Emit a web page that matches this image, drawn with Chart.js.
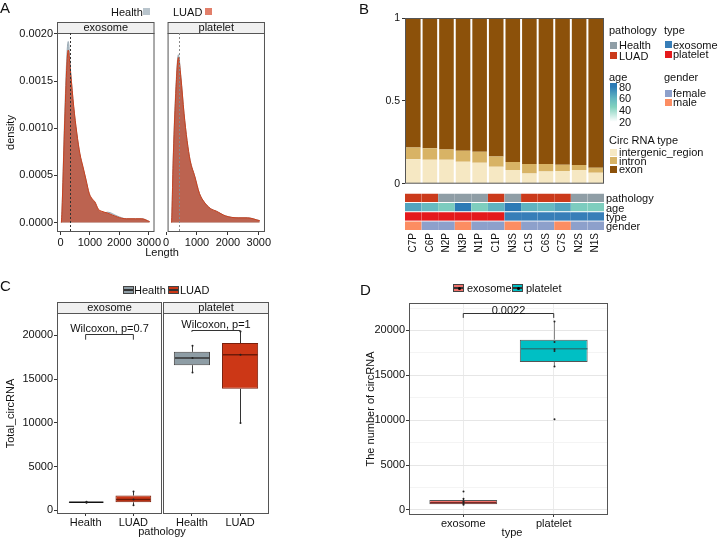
<!DOCTYPE html>
<html>
<head>
<meta charset="utf-8">
<script src="https://cdn.jsdelivr.net/npm/chart.js@4.4.0/dist/chart.umd.min.js"></script>
<style>
  body { margin: 0; background: #fff; }
  #fig { position: relative; width: 718px; height: 538px; overflow: hidden;
         font-family: "Liberation Sans", Arial, sans-serif; color: #111; }
  #fig canvas { position: absolute; }
  .t { position: absolute; white-space: nowrap; font-size: 11px; line-height: 1; }
  .sw { position: absolute; box-sizing: border-box; }
</style>
</head>
<body>
<div id="fig">
  <canvas id="aExo" width="162" height="262" style="left:0;top:0"></canvas>
  <canvas id="aPlt" width="110" height="262" style="left:162px;top:0"></canvas>
  <canvas id="bBars" width="236" height="184" style="left:370px;top:8px"></canvas>
  <canvas id="bHeat" width="210" height="80" style="left:400px;top:190px"></canvas>
  <canvas id="cExo" width="163" height="230" style="left:0;top:300px"></canvas>
  <canvas id="cPlt" width="110" height="230" style="left:162px;top:300px"></canvas>
  <canvas id="dBox" width="268" height="235" style="left:345px;top:295px"></canvas>
</div>
<script>
var FONT = '"Liberation Sans", Arial, sans-serif';

// A: circRNA length density
var lenExo = [32, 52, 136, 220, 265, 347, 451, 556, 662, 767, 871, 978, 1082, 1170, 1293, 1400, 1609, 1924, 2240, 2555, 2765, 3030];
var exoHealth = [0, 0.00013, 0.00105, 0.00178, 0.00192, 0.00160, 0.00122, 0.00094, 0.00072, 0.00058, 0.00045, 0.00030, 0.00024, 0.00021, 0.00012, 0.00010, 0.00011, 0.00007, 0.00004, 0.00004, 0.00004, 0.00001];
var exoLUAD = [0, 0.00012, 0.00098, 0.00168, 0.00183, 0.00158, 0.00123, 0.00095, 0.00073, 0.00059, 0.00045, 0.00031, 0.00025, 0.00022, 0.00014, 0.00012, 0.00010, 0.00006, 0.00004, 0.00004, 0.00004, 0.00001];
var lenPlt = [178, 190, 228, 308, 398, 478, 580, 679, 778, 928, 1078, 1228, 1430, 1630, 1930, 2330, 2630, 3030];
var pltHealth = [0, 0.00012, 0.00066, 0.00137, 0.00178, 0.00155, 0.00116, 0.00087, 0.00066, 0.00049, 0.00031, 0.00022, 0.00015, 0.00012, 0.00007, 0.00005, 0.00005, 0.00002];
var pltLUAD = [0, 0.00011, 0.00063, 0.00133, 0.00175, 0.00154, 0.00116, 0.00087, 0.00066, 0.00049, 0.00031, 0.00022, 0.00015, 0.00012, 0.00007, 0.00005, 0.00005, 0.00002];
var cutExo = 315, cutPlt = 430;
var densTicks = [0, 0.0005, 0.001, 0.0015, 0.002];
var lenTicks = [0, 1000, 2000, 3000];

// B: circRNA type fractions per sample + annotations
var samples = ['C7P', 'C6P', 'N2P', 'N3P', 'N1P', 'C1P', 'N3S', 'C1S', 'C6S', 'C7S', 'N2S', 'N1S'];
var intergenic = [0.148, 0.144, 0.144, 0.133, 0.127, 0.103, 0.082, 0.062, 0.074, 0.076, 0.082, 0.066];
var intron = [0.070, 0.070, 0.063, 0.066, 0.066, 0.061, 0.049, 0.057, 0.045, 0.039, 0.031, 0.031];
var exon = [0.782, 0.786, 0.793, 0.801, 0.807, 0.836, 0.869, 0.881, 0.881, 0.885, 0.887, 0.903];
var pathology = ['LUAD', 'LUAD', 'Health', 'Health', 'Health', 'LUAD', 'Health', 'LUAD', 'LUAD', 'LUAD', 'Health', 'Health'];
var ages = [66, 58, 48, 80, 47, 61, 80, 61, 58, 66, 48, 47];
var types = ['platelet', 'platelet', 'platelet', 'platelet', 'platelet', 'platelet', 'exosome', 'exosome', 'exosome', 'exosome', 'exosome', 'exosome'];
var gender = ['male', 'female', 'female', 'male', 'female', 'female', 'male', 'female', 'female', 'male', 'female', 'female'];
var fracTicks = [0, 0.5, 1];

// C: total circRNA per pathology within each type
var groupsC = ['Health', 'LUAD'];
var boxCExo = [
  {min: 880, q1: 925, med: 945, q3: 965, max: 1000},
  {min: 600, q1: 925, med: 1250, q3: 1700, max: 2150}
];
var ptsCExo = [[1000, 930, 880], [2150, 1250, 600]];
var boxCPlt = [
  {min: 15770, q1: 16595, med: 17420, q3: 18120, max: 18820},
  {min: 9990, q1: 13895, med: 17800, q3: 19130, max: 20460}
];
var ptsCPlt = [[18820, 17420, 15770], [20460, 17800, 9990]];
var countTicks = [0, 5000, 10000, 15000, 20000];

// D: circRNA number per type
var groupsD = ['exosome', 'platelet'];
var boxD = [
  {min: 580, q1: 640, med: 820, q3: 1100, max: 1250},
  {min: 15990, q1: 16480, med: 17970, q3: 18970, max: 21000}
];
var ptsD = [[2050, 1250, 960, 900, 700, 580], [21000, 18700, 17900, 17700, 15990, 10120]];
var minorTicksD = [2500, 7500, 12500, 17500, 22500];

// colours
var cHealth = '#8e9da5', cLUAD = '#cc3716';
var pathColors = {Health: '#8f9ea6', LUAD: '#cb3a1b'};
var typeColors = {exosome: '#377eb8', platelet: '#e41a1c'};
var genderColors = {female: '#8da0cb', male: '#fc8d62'};
var ageStops = [[20, [255, 255, 255]], [45, [130, 210, 190]], [60, [98, 182, 193]], [80, [44, 123, 182]]];

function ageColor(a) {
  for (var i = 1; i < ageStops.length; i++) {
    if (a <= ageStops[i][0] || i === ageStops.length - 1) {
      var s0 = ageStops[i - 1], s1 = ageStops[i];
      var t = Math.max(0, Math.min(1, (a - s0[0]) / (s1[0] - s0[0])));
      var c = s0[1].map(function (v, k) { return Math.round(v + (s1[1][k] - v) * t); });
      return 'rgb(' + c.join(',') + ')';
    }
  }
}

Chart.defaults.font.family = FONT;
Chart.defaults.font.size = 11;
Chart.defaults.color = '#1a1a1a';
Chart.defaults.animation = false;
Chart.defaults.plugins.legend.display = false;
Chart.defaults.plugins.tooltip.enabled = false;

function fixW(w) { return function (s) { s.width = w; }; }
function fixH(h) { return function (s) { s.height = h; }; }
function setTicks(list) {
  return function (s) { s.ticks = list.map(function (v) { return {value: v}; }); };
}
function plain(v) { return String(v); }
function seg(ctx, x1, y1, x2, y2) {
  ctx.beginPath(); ctx.moveTo(x1, y1); ctx.lineTo(x2, y2); ctx.stroke();
}

// panel border + optional facet strip
var framePlugin = {
  id: 'frame',
  afterDatasetsDraw: function (chart, args, o) {
    var a = chart.chartArea, ctx = chart.ctx;
    ctx.save();
    ctx.strokeStyle = '#555';
    ctx.lineWidth = 1;
    ctx.strokeRect(a.left + 0.5, a.top + 0.5, a.right - a.left - 1, a.bottom - a.top - 1);
    if (o.strip) {
      ctx.fillStyle = '#f0f0f0';
      ctx.fillRect(a.left, a.top - 11, a.right - a.left, 11);
      ctx.strokeRect(a.left + 0.5, a.top - 10.5, a.right - a.left - 1, 11);
      ctx.fillStyle = '#111';
      ctx.font = '11px ' + FONT;
      ctx.textAlign = 'center';
      ctx.textBaseline = 'middle';
      ctx.fillText(o.strip, (a.left + a.right) / 2, a.top - 5);
    }
    ctx.restore();
  }
};

// dashed median-length line
var cutPlugin = {
  id: 'cut',
  afterDatasetsDraw: function (chart, args, o) {
    var a = chart.chartArea, ctx = chart.ctx;
    var x = Math.round(chart.scales.x.getPixelForValue(o.value)) + 0.5;
    ctx.save();
    ctx.strokeStyle = o.color;
    ctx.setLineDash([2, 2]);
    seg(ctx, x, a.top, x, a.bottom);
    ctx.restore();
  }
};

// whiskers, medians, points and the test bracket of a boxplot
var boxPlugin = {
  id: 'boxes',
  afterDatasetsDraw: function (chart, args, o) {
    var ctx = chart.ctx, ys = chart.scales.y, xs = chart.scales.x;
    var meta = chart.getDatasetMeta(0);
    ctx.save();
    o.stats.forEach(function (s, i) {
      var el = meta.data[i], x = Math.round(el.x) + 0.5, half = el.width / 2;
      ctx.lineWidth = 1;
      ctx.strokeStyle = o.whisker[i];
      seg(ctx, x, ys.getPixelForValue(s.q3), x, ys.getPixelForValue(s.max));
      seg(ctx, x, ys.getPixelForValue(s.q1), x, ys.getPixelForValue(s.min));
      ctx.strokeStyle = o.median[i];
      ctx.lineWidth = 1.5;
      var m = ys.getPixelForValue(s.med);
      seg(ctx, x - half + 0.5, m, x + half - 1, m);
      ctx.fillStyle = '#222';
      o.points[i].forEach(function (v) {
        ctx.beginPath();
        ctx.arc(x, ys.getPixelForValue(v), 1, 0, Math.PI * 2);
        ctx.fill();
      });
    });
    var t = o.test;
    var x1 = xs.getPixelForValue(t.from), x2 = xs.getPixelForValue(t.to);
    var yb = Math.round(ys.getPixelForValue(t.at)) + 0.5, yd = ys.getPixelForValue(t.tip);
    ctx.strokeStyle = '#333';
    ctx.lineWidth = 1;
    ctx.beginPath();
    ctx.moveTo(x1, yd); ctx.lineTo(x1, yb); ctx.lineTo(x2, yb); ctx.lineTo(x2, yd);
    ctx.stroke();
    ctx.fillStyle = '#111';
    ctx.font = '11px ' + FONT;
    ctx.textAlign = 'center';
    ctx.textBaseline = 'alphabetic';
    ctx.fillText(t.label, (x1 + x2) / 2, yb - t.gap);
    ctx.restore();
  }
};

function pts(xs, ys) { return xs.map(function (x, i) { return {x: x, y: ys[i]}; }); }

function densityChart(id, lens, health, luad, xMin, xMax, cut, cutColor, strip, showY, pad) {
  return new Chart(document.getElementById(id), {
    type: 'line',
    data: {
      datasets: [
        {data: pts(lens, luad), fill: 'origin', backgroundColor: 'rgba(190,78,52,0.82)',
         borderColor: '#c8401e', borderWidth: 1, pointRadius: 0, cubicInterpolationMode: 'monotone'},
        {data: pts(lens, health), fill: 'origin', backgroundColor: 'rgba(165,182,193,0.85)',
         borderColor: '#9aa9b3', borderWidth: 1, pointRadius: 0, cubicInterpolationMode: 'monotone'}
      ]
    },
    options: {
      responsive: false,
      layout: {padding: pad},
      scales: {
        x: {type: 'linear', min: xMin, max: xMax, afterBuildTicks: setTicks(lenTicks), afterFit: fixH(30),
            ticks: {autoSkip: false, maxRotation: 0, padding: 1, font: {size: 11}, color: '#111', callback: plain},
            grid: {drawOnChartArea: false, tickLength: 3, color: '#333'}, border: {display: false}},
        y: {min: -0.0001, max: 0.00201, display: showY, afterBuildTicks: setTicks(densTicks), afterFit: fixW(showY ? 57 : 0),
            ticks: {padding: 1, color: '#111', callback: function (v) { return v.toFixed(4); }},
            title: {display: true, text: 'density', font: {size: 11}, color: '#111'},
            grid: {drawOnChartArea: false, tickLength: 3, color: '#333'}, border: {display: false}}
      },
      plugins: {frame: {strip: strip}, cut: {value: cut, color: cutColor}}
    },
    plugins: [framePlugin, cutPlugin]
  });
}

densityChart('aExo', lenExo, exoHealth, exoLUAD, -117, 3195, cutExo, '#333', 'exosome', true,
             {left: 0, top: 33, right: 0, bottom: 0});
densityChart('aPlt', lenPlt, pltHealth, pltLUAD, 48, 3200, cutPlt, '#8a8a8a', 'platelet', false,
             {left: 2, top: 33, right: 3, bottom: 0});

// B: stacked fractions
new Chart(document.getElementById('bBars'), {
  type: 'bar',
  data: {
    labels: samples,
    datasets: [
      {label: 'intergenic_region', data: intergenic, backgroundColor: '#f6e8c3'},
      {label: 'intron', data: intron, backgroundColor: '#d8b365'},
      {label: 'exon', data: exon, backgroundColor: '#8c510a'}
    ].map(function (d) { d.barPercentage = 0.88; d.categoryPercentage = 1; return d; })
  },
  options: {
    responsive: false,
    layout: {padding: {left: 0, top: 10, right: 2, bottom: 3}},
    scales: {
      x: {stacked: true, display: false},
      y: {stacked: true, min: 0, max: 1, afterBuildTicks: setTicks(fracTicks), afterFit: fixW(35),
          ticks: {padding: 2, font: {size: 10.5}, color: '#111', callback: plain},
          grid: {drawOnChartArea: false, tickLength: 3, color: '#333'}, border: {display: false}}
    },
    plugins: {frame: {}}
  },
  plugins: [framePlugin]
});

// B: annotation heatmap (bottom row first)
var heatRows = [
  {name: 'gender', colors: gender.map(function (g) { return genderColors[g]; })},
  {name: 'type', colors: types.map(function (t) { return typeColors[t]; })},
  {name: 'age', colors: ages.map(ageColor)},
  {name: 'pathology', colors: pathology.map(function (p) { return pathColors[p]; })}
];
new Chart(document.getElementById('bHeat'), {
  type: 'bar',
  data: {
    labels: samples,
    datasets: heatRows.map(function (r) {
      return {label: r.name, data: samples.map(function () { return 1; }), backgroundColor: r.colors,
              borderColor: 'rgba(255,255,255,0.8)', borderWidth: {top: 1, right: 0, bottom: 0, left: 0},
              barPercentage: 1, categoryPercentage: 1};
    })
  },
  options: {
    responsive: false,
    layout: {padding: {left: 5, top: 3, right: 6, bottom: 0}},
    scales: {
      x: {stacked: true, afterFit: fixH(40), grid: {display: false}, border: {display: false},
          ticks: {autoSkip: false, maxRotation: 90, minRotation: 90, padding: -5, font: {size: 10}, color: '#111'}},
      y: {stacked: true, min: 0, max: 4, display: false}
    }
  }
});

function boxChart(id, groups, stats, points, o) {
  return new Chart(document.getElementById(id), {
    type: 'bar',
    data: {
      datasets: [{
        data: stats.map(function (s, i) { return {x: i + 1, y: [s.q1, s.q3]}; }),
        backgroundColor: o.fill, borderColor: o.line, borderWidth: 1, borderSkipped: false,
        barPercentage: 0.75, categoryPercentage: 1
      }]
    },
    options: {
      responsive: false,
      layout: {padding: o.pad},
      scales: {
        x: {type: 'linear', offset: false, min: 0.4, max: 2.6, afterBuildTicks: setTicks([1, 2]), afterFit: fixH(o.xh),
            ticks: {autoSkip: false, maxRotation: 0, padding: 0, font: {size: 11}, color: '#111',
                    callback: function (v) { return groups[v - 1]; }},
            grid: {display: true, offset: false, color: '#ebebeb', tickColor: '#333', tickLength: 2, drawOnChartArea: o.grid},
            border: {display: false}},
        y: o.y
      },
      plugins: {frame: {strip: o.strip},
                boxes: {stats: stats, points: points, whisker: o.whisker, median: o.median, test: o.test}}
    },
    plugins: [framePlugin, boxPlugin]
  });
}

function yCount(min, max, show, w, title) {
  return {min: min, max: max, display: show, afterBuildTicks: setTicks(countTicks), afterFit: fixW(w),
          ticks: {padding: 1, font: {size: 11}, color: '#111', callback: plain},
          title: {display: !!title, text: title, font: {size: 11}, color: '#111'},
          grid: {drawOnChartArea: false, tickLength: 3, color: '#333'}, border: {display: false}};
}

boxChart('cExo', groupsC, boxCExo, ptsCExo, {
  fill: [cHealth, cLUAD], line: ['#333', '#7a1f0b'], whisker: ['#333', '#333'], median: ['#111', '#6e1a08'],
  pad: {left: 0, top: 13, right: 1, bottom: 0}, xh: 16, grid: false, strip: 'exosome',
  y: yCount(-411, 22560, true, 57, 'Total_circRNA'),
  test: {from: 1, to: 2, at: 20160, tip: 19510, label: 'Wilcoxon, p=0.7', gap: 3}
});
boxChart('cPlt', groupsC, boxCPlt, ptsCPlt, {
  fill: [cHealth, cLUAD], line: ['#444', '#7a1f0b'], whisker: ['#444', '#333'], median: ['#333', '#6e1a08'],
  pad: {left: 1, top: 13, right: 3, bottom: 0}, xh: 16, grid: false, strip: 'platelet',
  y: yCount(-411, 22560, false, 0, ''),
  test: {from: 1, to: 2, at: 20650, tip: 20400, label: 'Wilcoxon, p=1', gap: 3}
});

var yD = yCount(-558, 23058, true, 49, 'The number of circRNA');
yD.afterBuildTicks = setTicks(countTicks.concat(minorTicksD).sort(function (a, b) { return a - b; }));
yD.ticks.callback = function (v) { return countTicks.indexOf(v) >= 0 ? String(v) : ''; };
yD.grid = {
  drawOnChartArea: true, tickLength: 3,
  color: function (c) { return countTicks.indexOf(c.tick.value) >= 0 ? '#e6e6e6' : '#f4f4f4'; },
  tickColor: function (c) { return countTicks.indexOf(c.tick.value) >= 0 ? '#333' : 'rgba(0,0,0,0)'; }
};
boxChart('dBox', groupsD, boxD, ptsD, {
  fill: ['#f0716a', '#00bfc4'], line: ['#555', '#555'], whisker: ['#111', '#888'], median: ['#7a2a26', '#1f7c80'],
  pad: {left: 15, top: 8, right: 5, bottom: 0}, xh: 15, grid: true, strip: null,
  y: yD,
  test: {from: 1, to: 2, at: 21950, tip: 21400, label: '0.0022', gap: 0}
});

// text and legends
var fig = document.getElementById('fig');
function txt(s, x, y, o) {
  o = o || {};
  var d = document.createElement('div');
  d.className = 't';
  d.textContent = s;
  d.style.left = x + 'px';
  d.style.top = y + 'px';
  d.style.transform = 'translate(' + (o.center ? '-50%' : '0') + ',-50%)';
  if (o.size) d.style.fontSize = o.size + 'px';
  fig.appendChild(d);
  return d;
}
function swatch(x, y, w, h, bg, border) {
  var d = document.createElement('div');
  d.className = 'sw';
  d.style.left = x + 'px';
  d.style.top = y + 'px';
  d.style.width = w + 'px';
  d.style.height = h + 'px';
  d.style.background = bg;
  if (border) d.style.border = '1px solid ' + border;
  fig.appendChild(d);
  return d;
}
function boxKey(x, y, fill, dot) {
  var k = swatch(x, y, 11, 8, 'linear-gradient(' + fill + ' 40%, #333 40%, #333 60%, ' + fill + ' 60%)', '#444');
  if (dot) {
    var p = document.createElement('div');
    p.className = 'sw';
    p.style.cssText = 'left:3.5px;top:1.5px;width:3px;height:3px;border-radius:50%;background:#000';
    k.appendChild(p);
  }
}

// A
txt('A', 0, 7, {size: 15});
txt('Health', 111, 12);
swatch(143, 8, 7, 7, '#b8c4cc');
txt('LUAD', 173, 12);
swatch(205, 8, 7, 7, '#e27f6a');
txt('Length', 162, 252, {center: true});

// B
txt('B', 359, 8, {size: 15});
txt('pathology', 606, 198);
txt('age', 606, 207.5);
txt('type', 606, 216.5);
txt('gender', 606, 226);
txt('pathology', 609, 30);
swatch(610, 42, 7, 7, pathColors.Health); txt('Health', 619, 45);
swatch(610, 52, 7, 7, pathColors.LUAD); txt('LUAD', 619, 56);
txt('type', 664, 30);
swatch(665, 41, 7, 7, typeColors.exosome); txt('exosome', 673, 44.5);
swatch(665, 50.5, 7, 7, typeColors.platelet); txt('platelet', 673, 54);
txt('age', 609, 77);
var lo = 16, hi = 86;
swatch(610, 83, 7, 41, 'linear-gradient(to top, ' + ageStops.map(function (s) {
  return 'rgb(' + s[1].join(',') + ') ' + ((s[0] - lo) / (hi - lo) * 100).toFixed(1) + '%';
}).join(', ') + ')');
[80, 60, 40, 20].forEach(function (a) {
  txt(String(a), 619, 124 - (a - lo) / (hi - lo) * 41);
});
txt('gender', 664, 77);
swatch(665, 89.5, 7, 7, genderColors.female); txt('female', 673, 93);
swatch(665, 98.5, 7, 7, genderColors.male); txt('male', 673, 102);
txt('Circ RNA type', 609, 140);
swatch(610, 148.5, 7, 7, '#f6e8c3'); txt('intergenic_region', 619, 152);
swatch(610, 157, 7, 7, '#d8b365'); txt('intron', 619, 161);
swatch(610, 165.5, 7, 7, '#8c510a'); txt('exon', 619, 169);

// C
txt('C', 0, 285, {size: 15});
boxKey(123, 286, cHealth);
txt('Health', 134, 290);
boxKey(168, 286, cLUAD);
txt('LUAD', 180, 290);
txt('pathology', 162, 531, {center: true});

// D
txt('D', 360, 289, {size: 15});
boxKey(453, 284, '#f0716a', true);
txt('exosome', 467, 288);
boxKey(512, 284, '#00bfc4', true);
txt('platelet', 526, 288);
txt('type', 512, 532, {center: true});
</script>
</body>
</html>
